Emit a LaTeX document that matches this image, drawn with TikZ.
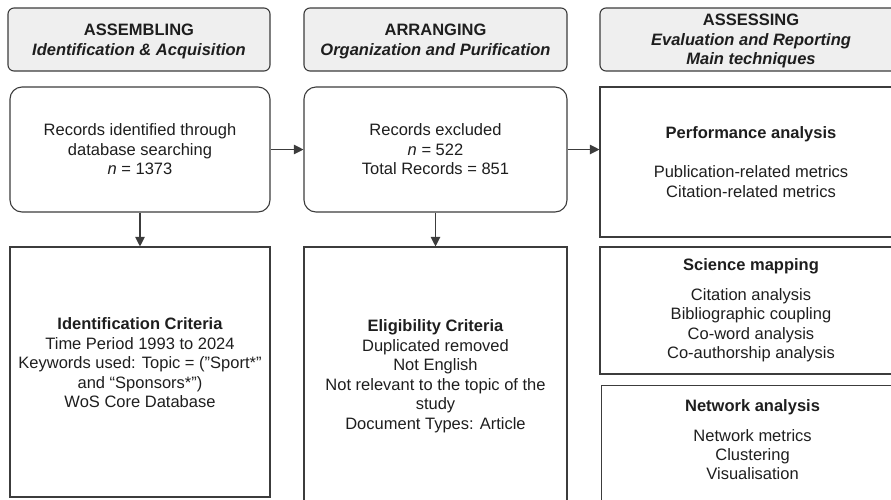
\documentclass[tikz,border=0pt]{standalone}
\usepackage{fontspec}
\setmainfont{Liberation Sans}
\usetikzlibrary{arrows.meta,positioning}
\definecolor{boxline}{HTML}{3C3C3C}
\definecolor{headfill}{HTML}{EFEFEF}
\definecolor{txt}{HTML}{1E1E1E}
\tikzset{
  basebox/.style={draw=boxline,line width=1.1pt,align=center,inner sep=0pt,text=txt,
                  font=\fontsize{16.5}{19.5}\selectfont},
  stagehead/.style={basebox,fill=headfill,rounded corners=6pt,minimum height=63pt,text depth=0pt},
  recbox/.style={basebox,rounded corners=12pt,minimum height=125pt,text depth=0pt},
  critbox/.style={basebox},
  techbox/.style={basebox,minimum width=302pt},
  flow/.style={draw=boxline,line width=1.1pt,-{Triangle[length=9.5pt,width=9.5pt]}}
}
\begin{document}
\begin{tikzpicture}[x=1pt,y=-1pt]
\useasboundingbox (0,0) rectangle (891,499);
\clip (0,0) rectangle (891,499);
%stage headers
\node[stagehead,minimum width=262pt] (assemble) at (139,39.5)
  {\textbf{ASSEMBLING}\\\textbf{\textit{Identification \& Acquisition}}};
\node[stagehead,minimum width=263pt] (arrange) at (435.5,39.5)
  {\textbf{ARRANGING}\\\textbf{\textit{Organization and Purification}}};
\node[stagehead,minimum width=302pt] (assess) at (751,39.5)
  {\textbf{ASSESSING}\\\textbf{\textit{Evaluation and Reporting}}\\\textbf{\textit{Main techniques}}};
%records
\node[recbox,minimum width=260pt] (recid) at (140,149.5)
  {Records identified through\\database searching\\\textit{n} = 1373};
\node[recbox,minimum width=263pt] (recex) at (435.5,149.5)
  {Records excluded\\\textit{n} = 522\\Total Records = 851};
%criteria
\node[critbox,minimum width=260pt,minimum height=250pt,text depth=18pt] (idcrit) at (140,372)
  {\textbf{Identification Criteria}\\Time Period 1993 to 2024\\Keywords used: Topic = ("Sport*"\\and “Sponsors*”)\\WoS Core Database};
\node[critbox,minimum width=263pt,minimum height=258pt] (elig) at (435.5,376)
  {\textbf{Eligibility Criteria}\\Duplicated removed\\Not English\\Not relevant to the topic of the\\study\\Document Types: Article};
%techniques
\node[techbox,minimum height=150pt] (perf) at (751,162)
  {\textbf{Performance analysis}\\[20pt]Publication-related metrics\\Citation-related metrics};
\node[techbox,minimum height=127pt] (scimap) at (751,310.5)
  {\textbf{Science mapping}\\[10pt]Citation analysis\\Bibliographic coupling\\Co-word analysis\\Co-authorship analysis};
\node[techbox,minimum height=140pt,anchor=north west] (netw) at (601,385) {};
\node[align=center,text=txt,font=\fontsize{16.5}{19.5}\selectfont,below=11pt of netw.north] (netwtext)
  {\textbf{Network analysis}\\[10pt]Network metrics\\Clustering\\Visualisation};
%arrows
\draw[flow] (recid) -- (recex);
\draw[flow] (recex.east) -- (recex.east -| perf.west);
\draw[flow] (recid) -- (idcrit);
\draw[flow] (recex) -- (elig);
\end{tikzpicture}
\end{document}
